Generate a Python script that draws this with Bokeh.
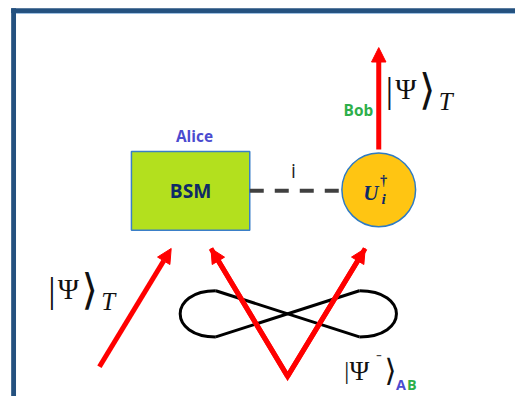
from bokeh.plotting import figure
from bokeh.models import Range1d, ColumnDataSource, Arrow, NormalHead
from bokeh.core.properties import value
from bokeh.embed import file_html
from bokeh.resources import INLINE

# ---- diagram data (reference pixel space, 531 x 412) ----
# frame bars: left, right, top, bottom
frame_left = [11, 11]
frame_right = [531, 16]
frame_top = [8, 8]
frame_bottom = [13, 412]

# BSM node (Alice)
bsm_left = [135]
bsm_right = [257]
bsm_top = [157]
bsm_bottom = [239]
bsm_label = ["BSM"]
bsm_center = [196, 198]

# Bob's unitary node
u_center = [390, 197]
u_radius = [38]

# classical channel (dashed)
chan_x = [257, 352]
chan_y = [198, 198]
chan_label = ["i"]

# red qubit arrows: start -> end
arr_x0 = [102, 296, 296, 390]
arr_y0 = [381, 391, 391, 155]
arr_x1 = [176, 217, 376, 390]
arr_y1 = [258, 258, 258, 49]
v_x = [217, 296, 376]
v_y = [258, 391, 258]

# entangled-pair figure eight
loop_x0 = [222, 370]
loop_y0 = [302, 302]
loop_x1 = [222, 370]
loop_y1 = [350, 350]
loop_cx = [173, 421]
cross_x0 = [222, 222]
cross_y0 = [302, 350]
cross_x1 = [370, 370]
cross_y1 = [350, 302]

# party labels
party_text = ["Alice", "Bob"]
party_x = [200, 369]
party_y = [141, 114]
party_color = ["#4B4BCF", "#2DAF4A"]

# |Psi>_T labels (anchor = position of the bar)
ket_anchor_x = [400, 52]
ket_anchor_y = [93, 301]

# |Psi^-> AB label
bell_x = [357, 370, 390]
bell_y = [385, 385, 375]
bell_text = ["|", "Ψ", "⁻"]
bell_size = [26, 28, 18]
bell_close = ["⟩"]
ab_text = ["A", "B"]
ab_x = [413, 424]
ab_y = [399, 399]
ab_color = ["#4B4BCF", "#2DAF4A"]

RED = "#FF0000"
NAVY = "#0E2A66"
INK = "#111111"
THIN = value("DejaVu Sans Light, DejaVu Sans ExtraLight, DejaVu Serif")
W, H = 515, 396
K = H / 412.0


def fs(px):
    return f"{px * K:.1f}px"


p = figure(width=W, height=H, output_backend="svg", toolbar_location=None,
           x_range=Range1d(0, 531), y_range=Range1d(412, 0),
           min_border=0, outline_line_color=None)
p.axis.visible = False
p.grid.visible = False
p.background_fill_color = "white"
p.border_fill_color = "white"

# frame
p.quad(left=frame_left, right=frame_right, top=frame_top, bottom=frame_bottom,
       fill_color="#24517F", line_color=None)
p.segment(x0=[16], y0=[13.5], x1=[531], y1=[13.5], line_color="#9CC0E4", line_width=1)

# figure-eight (entanglement)
p.bezier(x0=loop_x0, y0=loop_y0, x1=loop_x1, y1=loop_y1,
         cx0=loop_cx, cy0=loop_y0, cx1=loop_cx, cy1=loop_y1,
         line_color="black", line_width=3)
p.segment(x0=cross_x0, y0=cross_y0, x1=cross_x1, y1=cross_y1,
          line_color="black", line_width=3)

# BSM box
p.quad(left=bsm_left, right=bsm_right, top=bsm_top, bottom=bsm_bottom,
       fill_color="#B3E01E", line_color="#3A7FC8", line_width=1.5)
p.text(x=[bsm_center[0]], y=[bsm_center[1]], text=bsm_label,
       text_font=value("Open Sans"), text_font_style="bold", text_font_size=fs(20),
       text_color=NAVY, text_align="center", text_baseline="middle")

# dashed classical channel
p.line(x=chan_x, y=chan_y, line_color="#404040", line_width=4, line_dash="14 11")
p.text(x=[302], y=[177], text=chan_label, text_font=value("Open Sans"),
       text_font_size=fs(20), text_color="#222222", text_align="center",
       text_baseline="middle")

# U node
p.circle(x=[u_center[0]], y=[u_center[1]], radius=u_radius[0],
         fill_color="#FFC512", line_color="#2F7BC3", line_width=1.5)
p.text(x=[382], y=[200], text=["U"], text_font=value("Liberation Serif"),
       text_font_style="bold italic", text_font_size=fs(22), text_color=NAVY,
       text_align="center", text_baseline="middle")
p.text(x=[395], y=[187], text=["†"], text_font=value("Liberation Serif"),
       text_font_style="bold", text_font_size=fs(15), text_color=NAVY,
       text_align="center", text_baseline="middle")
p.text(x=[395], y=[206], text=["i"], text_font=value("Liberation Serif"),
       text_font_style="bold italic", text_font_size=fs(16), text_color=NAVY,
       text_align="center", text_baseline="middle")

# red arrows
p.line(x=v_x, y=v_y, line_color=RED, line_width=5, line_join="miter")
src = ColumnDataSource(dict(x0=arr_x0, y0=arr_y0, x1=arr_x1, y1=arr_y1))
p.add_layout(Arrow(x_start="x0", y_start="y0", x_end="x1", y_end="y1", source=src,
                   line_color=RED, line_width=5,
                   end=NormalHead(size=15 * K, fill_color=RED, line_color=RED, line_width=1)))

# party labels
p.text(x=party_x, y=party_y, text=party_text, text_font=value("Open Sans"),
       text_font_style="bold", text_font_size=fs(16), text_color=party_color,
       text_align="center", text_baseline="middle")

# |Psi>_T labels
for ax, ay in zip(ket_anchor_x, ket_anchor_y):
    p.text(x=[ax + 1], y=[ay], text=["|"], text_font=value("Liberation Serif"),
           text_font_size=fs(38), text_align="center", text_baseline="middle",
           text_color=INK)
    p.text(x=[ax + 18], y=[ay - 1], text=["Ψ"], text_font=value("Liberation Serif"),
           text_font_size=fs(30), text_align="center", text_baseline="middle",
           text_color=INK)
    p.text(x=[ax + 40], y=[ay], text=["⟩"], text_font=THIN,
           text_font_size=fs(44), text_align="center", text_baseline="middle",
           text_color=INK)
    p.text(x=[ax + 59], y=[ay + 12], text=["T"], text_font=value("Liberation Serif"),
           text_font_style="italic", text_font_size=fs(26), text_align="center",
           text_baseline="middle", text_color=INK)

# |Psi^-> AB label
p.text(x=bell_x, y=bell_y, text=bell_text, text_font=value("Liberation Serif"),
       text_font_size=[fs(s) for s in bell_size], text_align="center",
       text_baseline="middle", text_color=INK)
p.text(x=[402], y=[384], text=bell_close, text_font=THIN,
       text_font_size=fs(32), text_align="center", text_baseline="middle",
       text_color=INK)
p.text(x=ab_x, y=ab_y, text=ab_text, text_font=value("Open Sans"),
       text_font_style="bold", text_font_size=fs(15), text_color=ab_color,
       text_align="center", text_baseline="middle")

open("out.html", "w").write(file_html(p, INLINE))
